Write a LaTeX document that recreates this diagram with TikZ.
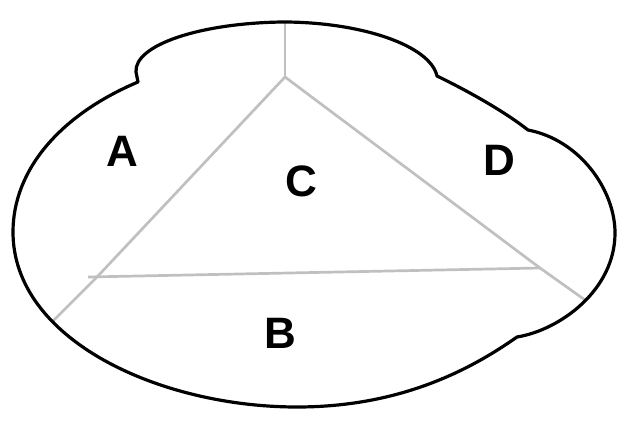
\documentclass[tikz,border=0pt]{standalone}
\usepackage{fontspec}
\setmainfont{Liberation Sans}
\begin{document}
\begin{tikzpicture}[x=1pt,y=-1pt,
  outline/.style={draw=black,line width=3.2pt,line join=round,line cap=round},
  divider/.style={draw=divgray,line width=2.7pt},
  region/.style={font=\fontsize{44}{44}\selectfont\bfseries,inner sep=0pt}]
\definecolor{divgray}{RGB}{192,192,192}
\useasboundingbox (0,0) rectangle (626,427);
% triangle corners and divider ends
\coordinate (apex) at (285,77);
\coordinate (lv) at (97,277);
\coordinate (rv) at (540,268);
\coordinate (topend) at (285,22);
\coordinate (leftend) at (53,321);
\coordinate (rightend) at (585,300);
\coordinate (hleft) at (88,277);
% outline points
\coordinate (n1) at (138,82);
\coordinate (n2) at (437,76);
\coordinate (n3) at (528,130);
\coordinate (n4) at (517,337);
% dividers
\draw[divider] (topend) -- (apex);
\draw[divider] (leftend) -- (lv) -- (apex) -- (rv) -- (rightend);
\draw[divider] (hleft) -- (rv);
% outline
\draw[outline] (n1) -- (136,72) .. controls (134,45) and (200,23) .. (283,22)
  .. controls (360,22) and (430,45) .. (n2)
  .. controls (470,92) and (505,112) .. (n3)
  .. controls (580,140) and (615,190) .. (615,233)
  .. controls (615,290) and (560,330) .. (n4)
  .. controls (470,370) and (400,407) .. (297,407)
  .. controls (160,407) and (13,340) .. (13,232)
  .. controls (13,170) and (60,115) .. (n1) -- cycle;
% labels
\node[region] (A) at (122,151) {A};
\node[region] (C) at (301,181) {C};
\node[region] (D) at (499,160) {D};
\node[region] (B) at (280,333) {B};
\end{tikzpicture}
\end{document}
